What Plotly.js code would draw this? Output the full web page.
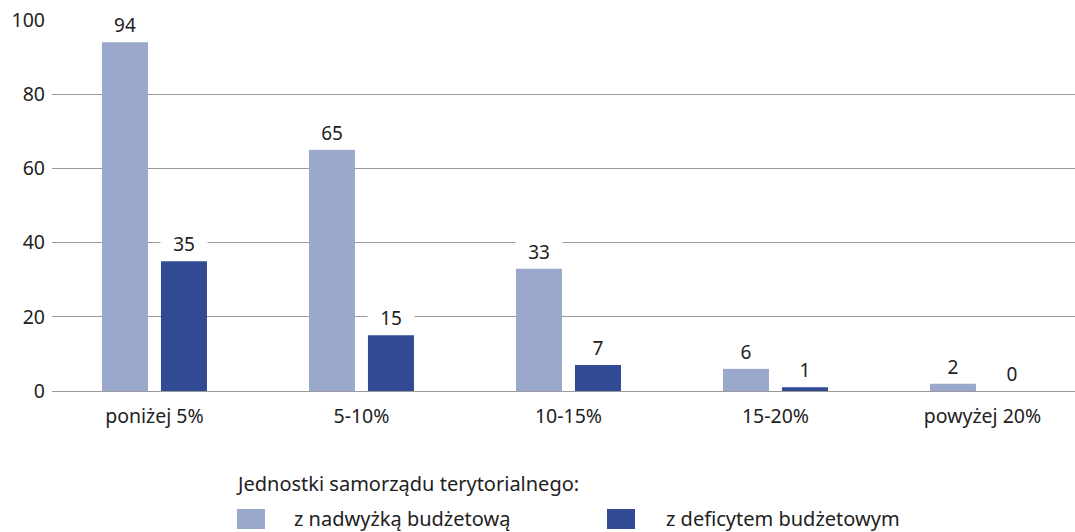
<!DOCTYPE html>
<html>
<head>
<meta charset="utf-8">
<script src="https://cdn.plot.ly/plotly-3.0.1.min.js"></script>
<style>
  html, body { margin: 0; padding: 0; background: #fff; }
  #chart { width: 1075px; height: 532px; }
</style>
</head>
<body>
<div id="chart"></div>
<script>
var categories = ['poniżej 5%', '5-10%', '10-15%', '15-20%', 'powyżej 20%'];
var surplus = [94, 65, 33, 6, 2];
var deficit = [35, 15, 7, 1, 0];
var surplusName = 'z nadwyżką budżetową';
var deficitName = 'z deficytem budżetowym';
var legendTitle = 'Jednostki samorządu terytorialnego:';

var lightBlue = '#9aa8cb';
var darkBlue = '#324a93';
var font = '"Noto Sans", Roboto, sans-serif';

var data = [
  { x: categories, y: surplus, name: surplusName, type: 'bar', marker: { color: lightBlue }, hoverinfo: 'y' },
  { x: categories, y: deficit, name: deficitName, type: 'bar', marker: { color: darkBlue }, hoverinfo: 'y' }
];

// value labels with white boxes that cut through the gridlines
var annotations = [];
function addLabels(vals, shift) {
  vals.forEach(function (v, i) {
    annotations.push({
      x: categories[i], y: v, xref: 'x', yref: 'y',
      text: String(v), showarrow: false,
      xshift: shift, yanchor: 'bottom',
      width: 44, height: 30, valign: 'middle',
      bgcolor: '#ffffff', borderpad: 1,
      font: { family: font, size: 19, color: '#222' }
    });
  });
}
addLabels(surplus, -29.5);
addLabels(deficit, 29.5);

// legend drawn by hand (larger swatches than Plotly's own)
var legFont = { family: font, size: 20, color: '#222' };
annotations.push({
  xref: 'paper', yref: 'paper', x: 0.178, y: -0.248, xanchor: 'left', yanchor: 'middle',
  text: legendTitle, showarrow: false, font: legFont
});
annotations.push({
  xref: 'paper', yref: 'paper', x: 0.2345, y: -0.345, xanchor: 'left', yanchor: 'middle',
  text: surplusName, showarrow: false, font: legFont
});
annotations.push({
  xref: 'paper', yref: 'paper', x: 0.598, y: -0.345, xanchor: 'left', yanchor: 'middle',
  text: deficitName, showarrow: false, font: legFont
});

var shapes = [
  { type: 'rect', xref: 'paper', yref: 'paper', x0: 0.1808, x1: 0.2082, y0: -0.372, y1: -0.318,
    fillcolor: lightBlue, line: { width: 0 } },
  { type: 'rect', xref: 'paper', yref: 'paper', x0: 0.5425, x1: 0.5699, y0: -0.372, y1: -0.318,
    fillcolor: darkBlue, line: { width: 0 } }
];

var layout = {
  width: 1075,
  height: 532,
  margin: { l: 52, r: 0, t: 20, b: 141 },
  paper_bgcolor: '#fff',
  plot_bgcolor: '#fff',
  showlegend: false,
  barmode: 'group',
  bargap: 0.43,
  bargroupgap: 0.22,
  font: { family: font, size: 19, color: '#222' },
  xaxis: {
    type: 'category',
    range: [-0.495, 4.447],
    showgrid: false,
    showline: false,
    zeroline: false,
    ticks: '',
    ticklabelstandoff: 11,
    tickfont: { family: font, size: 19.5, color: '#222' }
  },
  yaxis: {
    range: [0, 100],
    tickvals: [0, 20, 40, 60, 80, 100],
    showgrid: true,
    gridcolor: '#9a9a9a',
    gridwidth: 1,
    zeroline: true,
    zerolinecolor: '#9a9a9a',
    zerolinewidth: 1,
    showline: false,
    ticks: '',
    ticklabelstandoff: 6,
    tickfont: { family: font, size: 19.5, color: '#222' },
    fixedrange: true
  },
  annotations: annotations,
  shapes: shapes
};

Plotly.newPlot('chart', data, layout, { displayModeBar: false, staticPlot: true });
</script>
</body>
</html>
